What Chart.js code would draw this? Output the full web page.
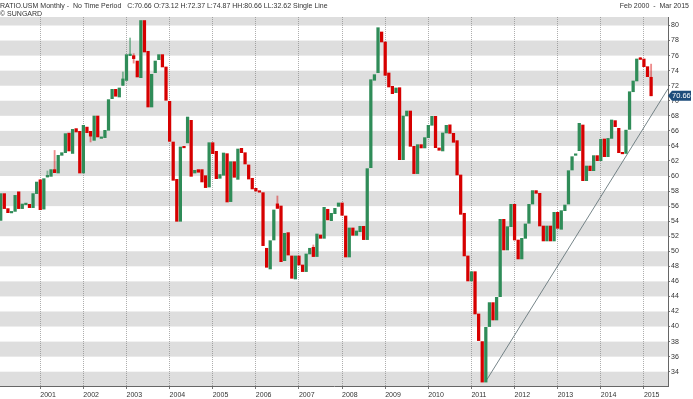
<!DOCTYPE html>
<html>
<head>
<meta charset="utf-8">
<script src="https://cdn.jsdelivr.net/npm/chart.js@4.4.1/dist/chart.umd.min.js"></script>
<style>
  html, body { margin: 0; padding: 0; background: #fff; }
  #wrap { width: 693px; height: 399px; }
</style>
</head>
<body>
<div id="wrap"><canvas id="chart" width="693" height="399"></canvas></div>
<script>
// monthly candles, index 0 = Feb 2000 ... index 181 = Mar 2015
const opens = [
  54.1, 57.66, 55.67, 55.1, 55.3, 57.9, 55.67, 56.2, 56.24, 55.8,
  57.66, 59.5, 55.6, 59.87, 59.96, 60.85, 60.4, 62.75, 63.1, 65.7,
  63.0, 66.3, 65.94, 60.4, 66.5, 65.94, 64.74, 67.98, 65.0, 65.1,
  66.07, 70.28, 71.52, 70.5, 72.05, 72.7, 76.0, 75.99, 75.28, 73.07,
  80.66, 76.57, 69.17, 73.73, 75.46, 76.13, 74.49, 69.93, 64.52, 59.56,
  53.98, 63.9, 64.4, 67.4, 60.4, 60.85, 60.85, 60.05, 58.54, 64.43,
  63.28, 59.7, 60.1, 62.97, 56.6, 61.9, 59.56, 63.68, 63.1, 61.47,
  59.7, 58.37, 57.95, 57.79, 50.4, 47.65, 51.5, 56.3, 56.02, 48.75,
  52.48, 49.38, 46.32, 49.38, 48.18, 47.3, 49.64, 50.53, 49.3, 52.17,
  51.72, 55.58, 54.07, 55.0, 55.97, 56.42, 54.69, 49.24, 53.1, 52.12,
  52.6, 53.32, 51.55, 61.11, 72.72, 73.73, 79.14, 77.81, 73.69, 71.92,
  71.08, 71.74, 62.17, 67.98, 68.64, 63.95, 60.32, 64.17, 63.73, 65.1,
  66.74, 67.93, 63.73, 63.33, 65.72, 66.8, 65.67, 64.7, 60.14, 55.05,
  49.38, 46.05, 47.29, 41.67, 38.0, 32.62, 40.0, 43.18, 40.87, 43.97,
  54.25, 50.17, 53.27, 56.24, 51.5, 48.98, 51.72, 53.72, 56.28, 58.06,
  57.7, 53.36, 51.37, 53.36, 51.37, 55.18, 52.92, 55.4, 56.28, 60.8,
  62.75, 63.37, 66.78, 59.38, 61.33, 60.71, 62.71, 62.04, 64.92, 62.57,
  65.0, 67.36, 66.34, 63.05, 63.0, 66.2, 71.2, 72.63, 75.6, 75.55,
  74.53, 73.12
];
const closes = [
  57.66, 55.67, 55.13, 55.3, 57.43, 55.67, 56.28, 56.3, 55.8, 57.66,
  59.2, 55.53, 59.65, 60.09, 60.85, 60.45, 62.75, 63.1, 65.63, 63.33,
  66.2, 65.85, 60.4, 66.74, 65.76, 65.3, 67.98, 65.19, 65.2, 66.07,
  70.15, 71.52, 70.6, 71.7, 72.9, 76.13, 76.15, 75.6, 73.16, 80.66,
  76.48, 69.17, 73.51, 75.28, 76.13, 74.49, 70.06, 64.61, 59.43, 53.98,
  63.86, 63.75, 67.84, 59.96, 60.76, 60.5, 59.21, 58.46, 64.43, 62.97,
  59.65, 60.2, 63.06, 56.55, 61.9, 59.83, 63.59, 63.1, 61.6, 59.6,
  58.28, 58.0, 57.85, 50.75, 47.87, 51.41, 55.49, 55.7, 48.62, 52.39,
  49.5, 46.41, 49.38, 48.18, 47.3, 49.64, 50.4, 49.3, 52.3, 51.72,
  55.84, 54.16, 55.04, 55.71, 56.42, 54.78, 49.24, 53.1, 52.12, 52.7,
  53.32, 51.55, 60.98, 72.8, 73.47, 79.71, 77.81, 73.38, 71.83, 70.94,
  71.7, 62.17, 67.98, 68.64, 63.95, 60.32, 64.17, 63.73, 65.1, 66.74,
  67.93, 63.77, 63.42, 65.72, 66.74, 65.67, 64.48, 60.14, 54.91, 49.38,
  46.05, 47.29, 41.67, 38.13, 32.62, 39.9, 43.18, 40.87, 43.88, 54.25,
  50.17, 53.27, 56.24, 51.5, 48.98, 51.72, 53.63, 56.24, 58.06, 57.7,
  53.36, 51.37, 53.36, 51.37, 55.18, 53.05, 55.4, 56.15, 60.71, 62.57,
  62.93, 67.0, 59.38, 61.33, 60.71, 62.71, 62.04, 64.88, 62.57, 65.0,
  67.45, 66.56, 63.1, 62.95, 66.1, 71.2, 72.63, 75.55, 75.5, 74.53,
  73.2, 70.66
];
// only the candles whose high/low shows beyond the body
const wickIdx  = [13, 15, 25, 34, 36, 37, 77, 87, 178, 181];
const wickLow  = [59.87, 60.45, 64.52, 72.05, 76.0, 75.0, 55.7, 49.3, 75.5, 70.66];
const wickHigh = [60.67, 63.4, 65.94, 73.82, 78.34, 76.26, 57.35, 50.84, 75.77, 74.87];

const yearLabels = ['2001', '2002', '2003', '2004', '2005', '2006', '2007', '2008',
                    '2009', '2010', '2011', '2012', '2013', '2014', '2015'];
const yearIdx = [11, 23, 35, 47, 59, 71, 83, 95, 107, 119, 131, 143, 155, 167, 179];
const yTicks = [34, 36, 38, 40, 42, 44, 46, 48, 50, 52, 54, 56, 58,
                60, 62, 64, 66, 68, 70, 72, 74, 76, 78, 80];

const trendX = [135.3, 185.7];
const trendY = [32.95, 71.6];

const lastClose = 70.66;
const titleText = 'RATIO.USM Monthly -  No Time Period   C:70.66 O:73.12 H:72.37 L:74.87 HH:80.66 LL:32.62 Single Line';
const sourceText = '\u00A9 SUNGARD';
const rangeText = 'Feb 2000  -  Mar 2015';

const GREEN = '#2f8c58';
const RED = '#d60000';
const FONT = '"Liberation Sans", Arial, sans-serif';

const upDown = opens.map((o, i) => closes[i] >= o);

const bands = {
  id: 'bands',
  beforeDraw(chart) {
    const { ctx, chartArea: a, scales: { y } } = chart;
    ctx.save();
    ctx.fillStyle = '#dedede';
    for (let v = 32; v <= 80; v += 4) {
      const top = Math.max(a.top, y.getPixelForValue(v + 2));
      const bot = Math.min(a.bottom, y.getPixelForValue(v));
      if (bot > top) ctx.fillRect(a.left, top, a.right - a.left, bot - top);
    }
    ctx.restore();
  },
  afterDraw(chart) {
    const { ctx, chartArea: a, scales: { y } } = chart;
    ctx.save();
    ctx.font = '7px ' + FONT;
    ctx.fillStyle = '#333';
    ctx.textBaseline = 'alphabetic';
    ctx.textAlign = 'left';
    ctx.fillText(titleText, 0, 7.5);
    ctx.fillText(sourceText, 0, 15.5);
    ctx.textAlign = 'right';
    ctx.fillText(rangeText, 689, 7.5);

    // last price tag on the right axis
    const yc = y.getPixelForValue(lastClose);
    const x0 = a.right;
    ctx.fillStyle = '#1e4d7b';
    ctx.beginPath();
    ctx.moveTo(x0, yc);
    ctx.lineTo(x0 + 4, yc - 5);
    ctx.lineTo(x0 + 23, yc - 5);
    ctx.lineTo(x0 + 23, yc + 5);
    ctx.lineTo(x0 + 4, yc + 5);
    ctx.closePath();
    ctx.fill();
    ctx.fillStyle = '#fff';
    ctx.textAlign = 'left';
    ctx.textBaseline = 'middle';
    ctx.font = '7.5px ' + FONT;
    ctx.fillText(lastClose.toFixed(2), x0 + 4, yc + 0.5);
    ctx.restore();
  }
};

new Chart(document.getElementById('chart'), {
  type: 'bar',
  data: {
    datasets: [
      {
        label: 'body',
        data: opens.map((o, i) => ({ x: i, y: [o, closes[i]] })),
        backgroundColor: upDown.map(u => (u ? GREEN : RED)),
        borderWidth: 0,
        barThickness: 2.6,
        minBarLength: 1.5,
        grouped: false
      },
      {
        label: 'wick',
        data: wickIdx.map((k, j) => ({ x: k, y: [wickLow[j], wickHigh[j]] })),
        backgroundColor: wickIdx.map(k => (upDown[k] ? 'rgba(47,140,88,0.55)' : 'rgba(214,0,0,0.45)')),
        borderWidth: 0,
        barThickness: 1.2,
        grouped: false
      },
      {
        type: 'line',
        label: 'trend',
        data: trendX.map((x, j) => ({ x: x, y: trendY[j] })),
        borderColor: '#66777c',
        borderWidth: 0.9,
        pointRadius: 0,
        fill: false
      }
    ]
  },
  options: {
    responsive: false,
    animation: false,
    devicePixelRatio: 1,
    layout: { padding: { top: 17, left: 0, right: 0, bottom: 0 } },
    plugins: {
      legend: { display: false },
      tooltip: { enabled: false }
    },
    scales: {
      x: {
        type: 'linear',
        min: -0.2,
        max: 185.7,
        offset: false,
        afterBuildTicks: s => { s.ticks = yearIdx.map(v => ({ value: v })); },
        afterFit: s => { s.height = 13; },
        ticks: {
          callback: (v) => yearLabels[yearIdx.indexOf(v)],
          align: 'start',
          autoSkip: false,
          maxRotation: 0,
          padding: 2,
          color: '#333',
          font: { family: FONT, size: 7 }
        },
        grid: {
          offset: false,
          color: 'rgba(120,120,120,0.6)',
          lineWidth: 1,
          drawTicks: true,
          tickLength: 3,
          tickColor: '#777'
        },
        border: { display: true, color: '#666', width: 1, dash: [1, 1] }
      },
      y: {
        type: 'linear',
        position: 'right',
        min: 32.1,
        max: 81.13,
        afterBuildTicks: s => { s.ticks = yTicks.map(v => ({ value: v })); },
        afterFit: s => { s.width = 25; },
        ticks: {
          padding: 1,
          color: '#333',
          font: { family: FONT, size: 7 }
        },
        grid: {
          drawOnChartArea: false,
          drawTicks: true,
          tickLength: 2,
          color: '#777'
        },
        border: { display: true, color: '#666', width: 1 }
      }
    }
  },
  plugins: [bands]
});
</script>
</body>
</html>
